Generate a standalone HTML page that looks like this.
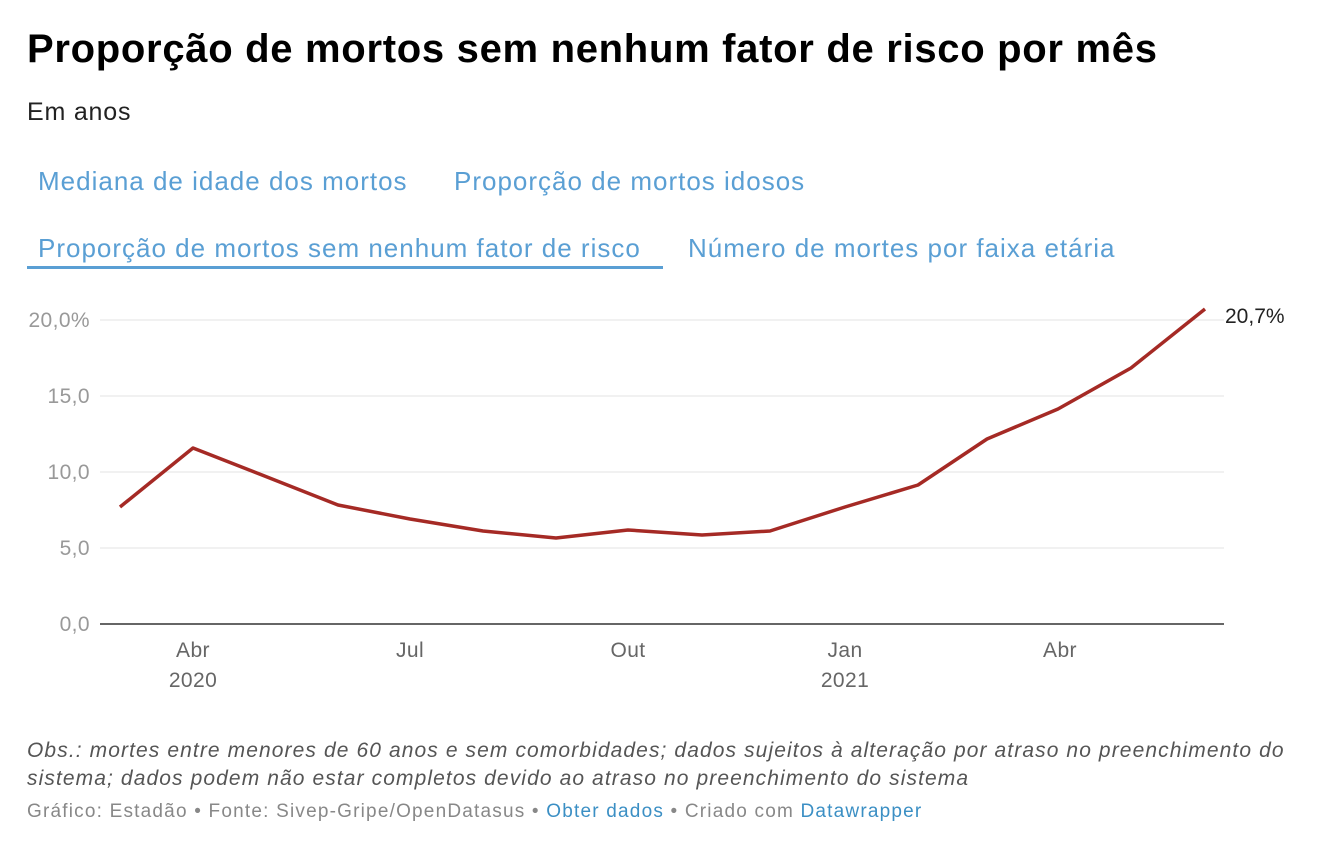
<!DOCTYPE html>
<html><head><meta charset="utf-8"><style>
body{margin:0;width:1328px;height:850px;background:#fff;font-family:"Liberation Sans",sans-serif;position:relative;overflow:hidden}
.a{position:absolute;white-space:nowrap}
.t{left:27px;top:27px;font-size:40px;font-weight:bold;color:#000;letter-spacing:0.7px}
.s{left:27px;top:98px;font-size:25px;color:#222;letter-spacing:0.8px}
.tab{font-size:26px;color:#5a9fd4;letter-spacing:1px}
.yl{font-size:21px;color:#999;text-align:right;width:70px;left:20px;letter-spacing:0.4px}
.xl{font-size:21px;color:#666;text-align:center;width:80px;letter-spacing:0.4px}
.obs{left:27px;top:737px;font-size:21px;font-style:italic;color:#555;line-height:28px;white-space:normal;width:1280px;letter-spacing:1.1px}
.f{left:27px;top:801px;font-size:19px;color:#888;letter-spacing:1.2px}
.f b{font-weight:normal;color:#3b8fc4}
</style></head><body>
<div class="a t">Proporção de mortos sem nenhum fator de risco por mês</div>
<div class="a s">Em anos</div>
<div class="a tab" style="left:38px;top:166px">Mediana de idade dos mortos</div>
<div class="a tab" style="left:454px;top:166px">Proporção de mortos idosos</div>
<div class="a tab" style="left:38px;top:233px">Proporção de mortos sem nenhum fator de risco</div>
<div class="a" style="left:27px;top:266px;width:636px;height:3px;background:#5a9fd4"></div>
<div class="a tab" style="left:688px;top:233px">Número de mortes por faixa etária</div>
<div class="a yl" style="top:309px">20,0%</div>
<div class="a yl" style="top:385px">15,0</div>
<div class="a yl" style="top:461px">10,0</div>
<div class="a yl" style="top:537px">5,0</div>
<div class="a yl" style="top:613px">0,0</div>
<svg class="a" style="left:0;top:0" width="1328" height="850">
<g stroke="#e3e3e3" stroke-width="1">
<line x1="100" x2="1224" y1="320" y2="320"/><line x1="100" x2="1224" y1="396" y2="396"/>
<line x1="100" x2="1224" y1="472" y2="472"/><line x1="100" x2="1224" y1="548" y2="548"/>
</g>
<line x1="100" x2="1224" y1="624" y2="624" stroke="#333" stroke-width="1.5"/>
<polyline fill="none" stroke="#a52a25" stroke-width="3.5" stroke-linejoin="round" points="120,507 193,448 262,475 338,505 410,519 483,531 556,538 628,530 702,535 770,531 845,507 918,485 987,439 1058,409 1131,368 1205,309"/>
<text x="1225" y="323" font-family="Liberation Sans" font-size="21" fill="#222">20,7%</text>
</svg>
<div class="a xl" style="left:153px;top:639px">Abr</div>
<div class="a xl" style="left:153px;top:669px">2020</div>
<div class="a xl" style="left:370px;top:639px">Jul</div>
<div class="a xl" style="left:588px;top:639px">Out</div>
<div class="a xl" style="left:805px;top:639px">Jan</div>
<div class="a xl" style="left:805px;top:669px">2021</div>
<div class="a xl" style="left:1020px;top:639px">Abr</div>
<div class="a obs">Obs.: mortes entre menores de 60 anos e sem comorbidades; dados sujeitos à alteração por atraso no preenchimento do sistema; dados podem não estar completos devido ao atraso no preenchimento do sistema</div>
<div class="a f">Gráfico: Estadão • Fonte: Sivep-Gripe/OpenDatasus • <b>Obter dados</b> • Criado com <b>Datawrapper</b></div>
</body></html>
